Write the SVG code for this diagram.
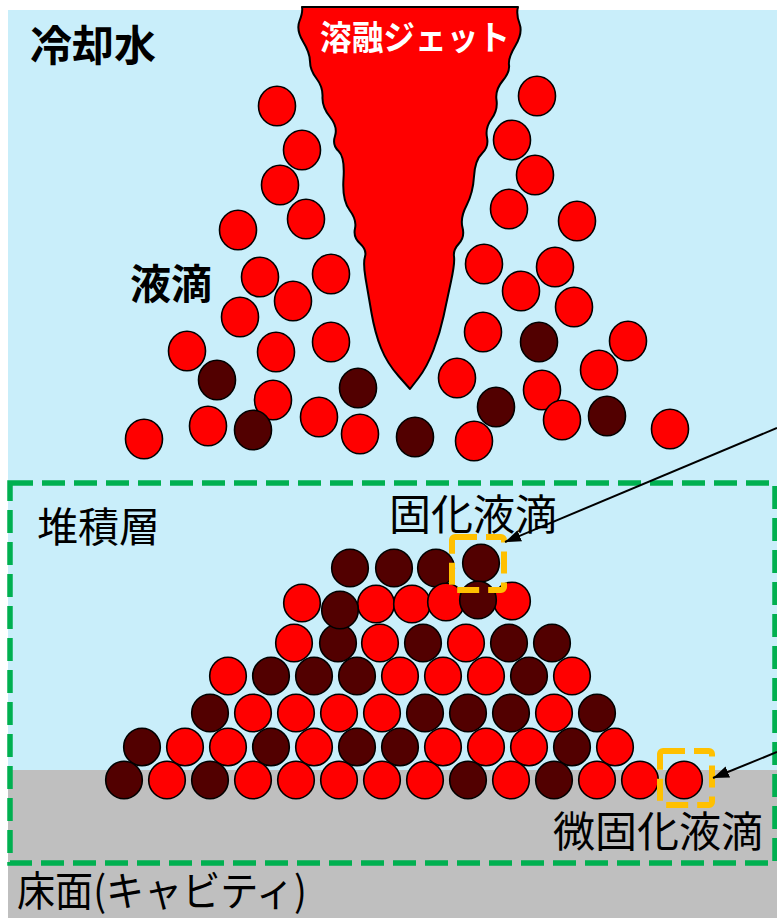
<svg xmlns="http://www.w3.org/2000/svg" width="777" height="918" viewBox="0 0 777 918">
<style>
.r{fill:#FF0000;stroke:#000;stroke-width:1.6}
.d{fill:#520000;stroke:#000;stroke-width:1.6}
.b{font-family:"Noto Sans CJK JP","Noto Sans CJK SC",sans-serif;font-weight:bold;fill:#000}
.t{font-family:"Noto Sans CJK JP","Noto Sans CJK SC",sans-serif;font-weight:normal;fill:#000}
.hl{fill:none;stroke:#FFC000;stroke-width:6;stroke-dasharray:22 9}
.conn{stroke:#000;stroke-width:2;fill:none}
</style>
<defs>
<marker id="ah" markerUnits="userSpaceOnUse" markerWidth="17" markerHeight="12" refX="16" refY="6" orient="auto">
<path d="M0,0 L16,6 L0,12 Z" fill="#000"/>
</marker>
</defs>
<rect width="777" height="918" fill="#FFFFFF"/>
<g id="water"><rect x="8" y="10" width="769" height="760" fill="#C9EEFA"/></g>
<g id="floor"><rect x="8" y="770" width="769" height="148" fill="#BFBFBF"/></g>

<g id="jet">
<path d="M302,7 L518,7 Q516,14 519.5,23.5 Q523,33 515.5,45.5 Q508,58 509,65 Q510,72 502.5,81 Q495,90 496.5,100 Q498,110 491.5,119 Q485,128 487,137.5 Q489,147 482,153.5 Q475,160 474,176.5 Q473,193 466.5,205.5 Q460,218 462.5,227.5 Q465,237 459,243.5 Q453,250 454,256.5 Q455,263 451,281.5 Q447,300 443.5,316.5 Q440,333 433.5,350 Q427,367 418.5,378 L410,389 L398.5,376 Q387,363 381,348 Q375,333 371.5,313 Q368,293 365.5,278 Q363,263 365,256.5 Q367,250 360,243.5 Q353,237 355,228.5 Q357,220 349.5,210 Q342,200 343.5,178.5 Q345,157 338.5,151 Q332,145 335,136 Q338,127 330,117 Q322,107 322.5,97 Q323,87 316.5,78.5 Q310,70 310,61.5 Q310,53 303,41.5 Q296,30 299.5,21 Q303,12 302,7 Z" fill="#FF0000" stroke="#000" stroke-width="2" stroke-linejoin="round"/>
<text x="320" y="50" font-size="34" textLength="190" lengthAdjust="spacingAndGlyphs" class="b" style="fill:#FFFFFF">溶融ジェット</text>
</g>

<g id="droplets">
<ellipse class="r" cx="277" cy="106" rx="18.5" ry="19.8"/>
<ellipse class="r" cx="302" cy="150" rx="18.5" ry="19.8"/>
<ellipse class="r" cx="280" cy="185" rx="18.5" ry="19.8"/>
<ellipse class="r" cx="306" cy="219" rx="18.5" ry="19.8"/>
<ellipse class="r" cx="238" cy="230" rx="18.5" ry="19.8"/>
<ellipse class="r" cx="260" cy="277" rx="18.5" ry="19.8"/>
<ellipse class="r" cx="331" cy="274" rx="18.5" ry="19.8"/>
<ellipse class="r" cx="293" cy="301" rx="18.5" ry="19.8"/>
<ellipse class="r" cx="240" cy="317" rx="18.5" ry="19.8"/>
<ellipse class="r" cx="187" cy="351" rx="18.5" ry="19.8"/>
<ellipse class="r" cx="276" cy="352" rx="18.5" ry="19.8"/>
<ellipse class="r" cx="331" cy="342" rx="18.5" ry="19.8"/>
<ellipse class="d" cx="217" cy="380" rx="18.5" ry="19.8"/>
<ellipse class="d" cx="358" cy="388" rx="18.5" ry="19.8"/>
<ellipse class="r" cx="273" cy="400" rx="18.5" ry="19.8"/>
<ellipse class="r" cx="208" cy="426" rx="18.5" ry="19.8"/>
<ellipse class="d" cx="253" cy="430" rx="18.5" ry="19.8"/>
<ellipse class="r" cx="319" cy="417" rx="18.5" ry="19.8"/>
<ellipse class="r" cx="360" cy="434" rx="18.5" ry="19.8"/>
<ellipse class="r" cx="144" cy="439" rx="18.5" ry="19.8"/>
<ellipse class="d" cx="415" cy="437" rx="18.5" ry="19.8"/>
<ellipse class="r" cx="537" cy="96" rx="18.5" ry="19.8"/>
<ellipse class="r" cx="512" cy="140" rx="18.5" ry="19.8"/>
<ellipse class="r" cx="535" cy="175" rx="18.5" ry="19.8"/>
<ellipse class="r" cx="509" cy="209" rx="18.5" ry="19.8"/>
<ellipse class="r" cx="577" cy="221" rx="18.5" ry="19.8"/>
<ellipse class="r" cx="484" cy="264" rx="18.5" ry="19.8"/>
<ellipse class="r" cx="555" cy="267" rx="18.5" ry="19.8"/>
<ellipse class="r" cx="521" cy="291" rx="18.5" ry="19.8"/>
<ellipse class="r" cx="574" cy="307" rx="18.5" ry="19.8"/>
<ellipse class="r" cx="483" cy="332" rx="18.5" ry="19.8"/>
<ellipse class="d" cx="539" cy="342" rx="18.5" ry="19.8"/>
<ellipse class="r" cx="628" cy="341" rx="18.5" ry="19.8"/>
<ellipse class="r" cx="599" cy="370" rx="18.5" ry="19.8"/>
<ellipse class="r" cx="457" cy="378" rx="18.5" ry="19.8"/>
<ellipse class="r" cx="542" cy="390" rx="18.5" ry="19.8"/>
<ellipse class="d" cx="496" cy="407" rx="18.5" ry="19.8"/>
<ellipse class="r" cx="562" cy="420" rx="18.5" ry="19.8"/>
<ellipse class="d" cx="607" cy="416" rx="18.5" ry="19.8"/>
<ellipse class="r" cx="670" cy="429" rx="18.5" ry="19.8"/>
<ellipse class="r" cx="474" cy="441" rx="18.5" ry="19.8"/>
</g>

<g id="pile">
<ellipse class="d" cx="350" cy="568" rx="18.3" ry="18.8"/>
<ellipse class="d" cx="394" cy="568" rx="18.3" ry="18.8"/>
<ellipse class="d" cx="436" cy="568" rx="18.3" ry="18.8"/>
<ellipse class="d" cx="481" cy="563" rx="18.3" ry="18.8"/>
<ellipse class="r" cx="302" cy="603" rx="18.3" ry="18.8"/>
<ellipse class="r" cx="376" cy="604" rx="18.3" ry="18.8"/>
<ellipse class="r" cx="412" cy="604" rx="18.3" ry="18.8"/>
<ellipse class="r" cx="446" cy="602" rx="18.3" ry="18.8"/>
<ellipse class="r" cx="512" cy="601" rx="18.3" ry="18.8"/>
<ellipse class="d" cx="478" cy="600" rx="18.3" ry="18.8"/>
<ellipse class="r" cx="294" cy="643" rx="18.3" ry="18.8"/>
<ellipse class="d" cx="338" cy="643" rx="18.3" ry="18.8"/>
<ellipse class="r" cx="380" cy="643" rx="18.3" ry="18.8"/>
<ellipse class="d" cx="423" cy="643" rx="18.3" ry="18.8"/>
<ellipse class="r" cx="466" cy="643" rx="18.3" ry="18.8"/>
<ellipse class="d" cx="509" cy="643" rx="18.3" ry="18.8"/>
<ellipse class="d" cx="552" cy="643" rx="18.3" ry="18.8"/>
<ellipse class="d" cx="340" cy="610" rx="18.3" ry="18.8"/>
<ellipse class="r" cx="228" cy="676" rx="18.3" ry="18.8"/>
<ellipse class="d" cx="271" cy="676" rx="18.3" ry="18.8"/>
<ellipse class="d" cx="314" cy="676" rx="18.3" ry="18.8"/>
<ellipse class="d" cx="357" cy="676" rx="18.3" ry="18.8"/>
<ellipse class="r" cx="400" cy="676" rx="18.3" ry="18.8"/>
<ellipse class="r" cx="443" cy="676" rx="18.3" ry="18.8"/>
<ellipse class="r" cx="486" cy="676" rx="18.3" ry="18.8"/>
<ellipse class="d" cx="529" cy="676" rx="18.3" ry="18.8"/>
<ellipse class="r" cx="572" cy="676" rx="18.3" ry="18.8"/>
<ellipse class="d" cx="210" cy="713" rx="18.3" ry="18.8"/>
<ellipse class="r" cx="253" cy="713" rx="18.3" ry="18.8"/>
<ellipse class="r" cx="296" cy="713" rx="18.3" ry="18.8"/>
<ellipse class="r" cx="339" cy="713" rx="18.3" ry="18.8"/>
<ellipse class="r" cx="382" cy="713" rx="18.3" ry="18.8"/>
<ellipse class="d" cx="425" cy="713" rx="18.3" ry="18.8"/>
<ellipse class="d" cx="468" cy="713" rx="18.3" ry="18.8"/>
<ellipse class="d" cx="511" cy="713" rx="18.3" ry="18.8"/>
<ellipse class="r" cx="554" cy="713" rx="18.3" ry="18.8"/>
<ellipse class="d" cx="597" cy="713" rx="18.3" ry="18.8"/>
<ellipse class="d" cx="142" cy="747" rx="18.3" ry="18.8"/>
<ellipse class="r" cx="185" cy="747" rx="18.3" ry="18.8"/>
<ellipse class="r" cx="228" cy="747" rx="18.3" ry="18.8"/>
<ellipse class="d" cx="271" cy="747" rx="18.3" ry="18.8"/>
<ellipse class="r" cx="314" cy="747" rx="18.3" ry="18.8"/>
<ellipse class="d" cx="357" cy="747" rx="18.3" ry="18.8"/>
<ellipse class="d" cx="400" cy="747" rx="18.3" ry="18.8"/>
<ellipse class="r" cx="443" cy="747" rx="18.3" ry="18.8"/>
<ellipse class="r" cx="486" cy="747" rx="18.3" ry="18.8"/>
<ellipse class="r" cx="529" cy="747" rx="18.3" ry="18.8"/>
<ellipse class="d" cx="572" cy="747" rx="18.3" ry="18.8"/>
<ellipse class="r" cx="615" cy="747" rx="18.3" ry="18.8"/>
<ellipse class="d" cx="124" cy="780" rx="18.3" ry="18.8"/>
<ellipse class="r" cx="167" cy="780" rx="18.3" ry="18.8"/>
<ellipse class="d" cx="210" cy="780" rx="18.3" ry="18.8"/>
<ellipse class="r" cx="253" cy="780" rx="18.3" ry="18.8"/>
<ellipse class="r" cx="296" cy="780" rx="18.3" ry="18.8"/>
<ellipse class="r" cx="339" cy="780" rx="18.3" ry="18.8"/>
<ellipse class="r" cx="382" cy="780" rx="18.3" ry="18.8"/>
<ellipse class="r" cx="425" cy="780" rx="18.3" ry="18.8"/>
<ellipse class="d" cx="468" cy="780" rx="18.3" ry="18.8"/>
<ellipse class="r" cx="511" cy="780" rx="18.3" ry="18.8"/>
<ellipse class="d" cx="554" cy="780" rx="18.3" ry="18.8"/>
<ellipse class="r" cx="597" cy="780" rx="18.3" ry="18.8"/>
<ellipse class="r" cx="640" cy="780" rx="18.3" ry="18.8"/>
<ellipse class="r" cx="684" cy="780" rx="18.3" ry="18.8"/>
</g>

<g id="deposit-layer">
<rect x="10" y="483" width="765" height="380" fill="none" stroke="#00B050" stroke-width="5.5" stroke-dasharray="23 9"/>
</g>

<g id="highlight-solidified"><rect class="hl" x="452" y="537" width="52" height="53" rx="3"/></g>
<g id="highlight-partial"><rect class="hl" x="660" y="751" width="52" height="54" rx="3"/></g>

<g id="labels">
<text x="30" y="61" font-size="42" class="b">冷却水</text>
<text x="130" y="299" font-size="41" class="b">液滴</text>
<text x="37" y="542" font-size="41" class="t">堆積層</text>
<text x="389" y="530" font-size="42" class="t">固化液滴</text>
<text x="553" y="847" font-size="42" class="t">微固化液滴</text>
<text x="17" y="906" font-size="41" class="t" textLength="290" lengthAdjust="spacingAndGlyphs">床面(キャビティ)</text>
</g>

<g id="connectors">
<line class="conn" x1="777" y1="428" x2="505" y2="542" marker-end="url(#ah)"/>
<line class="conn" x1="777" y1="752" x2="713" y2="778" marker-end="url(#ah)"/>
</g>
</svg>
